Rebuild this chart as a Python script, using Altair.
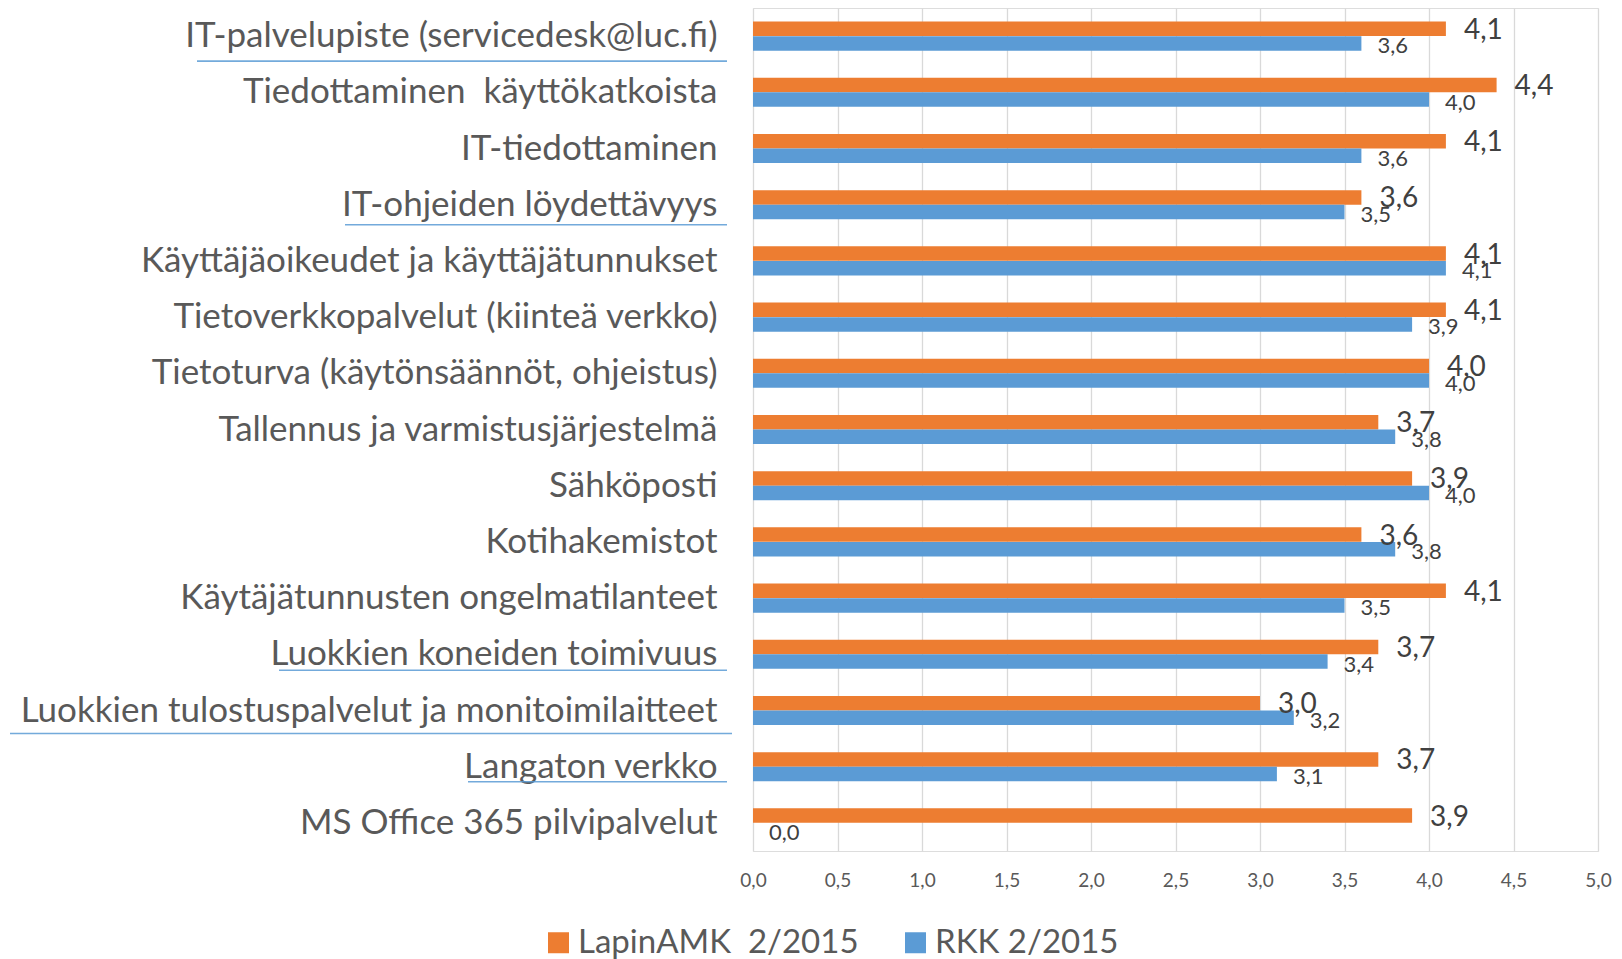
import altair as alt
import pandas as pd

categories = [
    "IT-palvelupiste (servicedesk@luc.fi)",
    "Tiedottaminen\u00a0 käyttökatkoista",
    "IT-tiedottaminen",
    "IT-ohjeiden löydettävyys",
    "Käyttäjäoikeudet ja käyttäjätunnukset",
    "Tietoverkkopalvelut (kiinteä verkko)",
    "Tietoturva (käytönsäännöt, ohjeistus)",
    "Tallennus ja varmistusjärjestelmä",
    "Sähköposti",
    "Kotihakemistot",
    "Käytäjätunnusten ongelmatilanteet",
    "Luokkien koneiden toimivuus",
    "Luokkien tulostuspalvelut ja monitoimilaitteet",
    "Langaton verkko",
    "MS Office 365 pilvipalvelut",
]
series = ["LapinAMK\u00a0 2/2015", "RKK 2/2015"]
lapin = [4.1, 4.4, 4.1, 3.6, 4.1, 4.1, 4.0, 3.7, 3.9, 3.6, 4.1, 3.7, 3.0, 3.7, 3.9]
rkk = [3.6, 4.0, 3.6, 3.5, 4.1, 3.9, 4.0, 3.8, 4.0, 3.8, 3.5, 3.4, 3.2, 3.1, 0.0]
x_ticks = [0, 0.5, 1, 1.5, 2, 2.5, 3, 3.5, 4, 4.5, 5]
underlined = [
    "IT-palvelupiste (servicedesk@luc.fi)",
    "IT-ohjeiden löydettävyys",
    "Luokkien koneiden toimivuus",
    "Luokkien tulostuspalvelut ja monitoimilaitteet",
    "Langaton verkko",
]

rows = []
for c, a, b in zip(categories, lapin, rkk):
    rows.append({"cat": c, "series": series[0], "value": a})
    rows.append({"cat": c, "series": series[1], "value": b})
df = pd.DataFrame(rows)

ORANGE = "#ED7D31"
BLUE = "#5B9BD5"
FONT = "Lato"
PLOT_H = 843

# underline decoration (styling only): x extents in pixels relative to plot left,
# and vertical offset below the label centre
underline_style = {
    underlined[0]: (-556, -26, 25),
    underlined[1]: (-408, -26, 20),
    underlined[2]: (-474, -26, 16),
    underlined[3]: (-743, -21, 23),
    underlined[4]: (-285, -26, 15),
}

band = dict(domain=categories, paddingInner=0.48, paddingOuter=0.24)

y_enc = alt.Y("cat:N", sort=categories, title=None,
              scale=alt.Scale(**band),
              axis=alt.Axis(labelFontSize=35, labelColor="#595959", labelFont=FONT,
                            labelPadding=36, domain=False, ticks=False, grid=False,
                            labelLimit=1000))
x_enc = alt.X("value:Q", title=None,
              scale=alt.Scale(domain=[0, 5], nice=False, zero=True),
              axis=alt.Axis(values=x_ticks, labelExpr="replace(format(datum.value, '.1f'), '.', ',')",
                            labelFontSize=19, labelColor="#595959", labelFont=FONT,
                            labelPadding=20, labelFlush=False, domain=False, ticks=False,
                            gridColor="#D9D9D9", gridWidth=1.3))

base = alt.Chart(df)

bars = base.mark_bar(size=14.5).encode(
    y=y_enc,
    yOffset=alt.YOffset("series:N", sort=series, scale=alt.Scale(domain=series, paddingInner=0, paddingOuter=0)),
    x=x_enc,
    color=alt.Color("series:N", sort=series,
                    scale=alt.Scale(domain=series, range=[ORANGE, BLUE]),
                    legend=alt.Legend(title=None, orient="none", direction="horizontal",
                                      legendX=-211, legendY=918,
                                      symbolType="square", symbolSize=441, symbolStrokeWidth=0,
                                      labelFontSize=33, labelColor="#595959", labelFont=FONT,
                                      labelOffset=3, columnPadding=40, labelLimit=500)),
)

labels = base.transform_calculate(
    lab="replace(format(datum.value, '.1f'), '.', ',')"
)

y_plain = alt.Y("cat:N", sort=categories, scale=alt.Scale(**band), axis=None)

orange_lab = labels.transform_filter(alt.datum.series == series[0]).mark_text(
    align="left", baseline="middle", dx=18, dy=2, fontSize=28, font=FONT, color="#404040"
).encode(
    y=y_plain,
    yOffset=alt.YOffset("series:N", sort=series),
    x=alt.X("value:Q"),
    text="lab:N",
)
blue_lab = labels.transform_filter(alt.datum.series == series[1]).mark_text(
    align="left", baseline="middle", dx=16, dy=3, fontSize=22, font=FONT, color="#404040"
).encode(
    y=y_plain,
    yOffset=alt.YOffset("series:N", sort=series),
    x=alt.X("value:Q"),
    text="lab:N",
)

ul_df = pd.DataFrame({"cat": underlined})
ul_layers = []
for c in underlined:
    x0, x1, off = underline_style[c]
    ul_layers.append(
        alt.Chart(ul_df).transform_filter(alt.datum.cat == c).mark_rule(
            color=BLUE, strokeWidth=1.6, opacity=0.85
        ).encode(
            y=alt.Y("cat:N", sort=categories, axis=None,
                    scale=alt.Scale(range=[off, PLOT_H + off], **band)),
            x=alt.value(x0), x2=alt.value(x1),
        )
    )

chart = alt.layer(bars, orange_lab, blue_lab, *ul_layers).resolve_scale(
    y="independent"
).properties(
    width=845, height=PLOT_H,
    autosize=alt.AutoSizeParams(type="none"),
    padding={"left": 745, "top": 0, "right": 16, "bottom": 108},
).configure_view(strokeWidth=0).configure(background="white")

chart.save("out.html", embed_options={"renderer": "svg", "actions": False})
